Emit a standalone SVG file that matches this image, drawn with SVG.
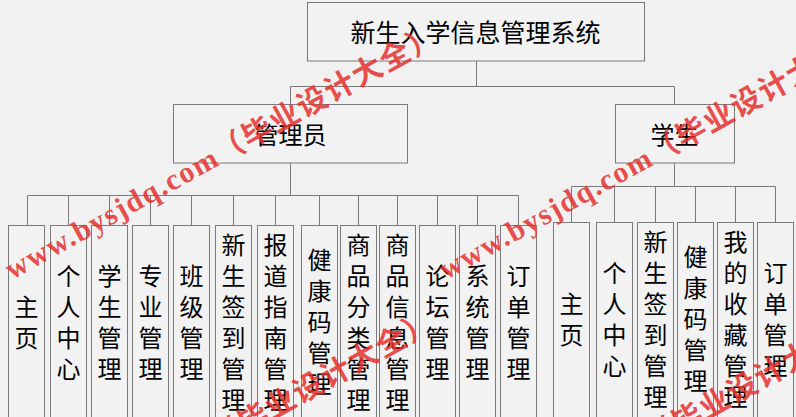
<svg xmlns="http://www.w3.org/2000/svg" width="796" height="417" viewBox="0 0 796 417">
<style>
.bg{fill:#f1f1f1}
.box{fill:#f2f2f2;stroke:#7a7a7a;stroke-width:1}
.ln{fill:none;stroke:#7a7a7a;stroke-width:1}
.t{font-family:"Noto Sans CJK SC","Noto Sans",sans-serif;fill:#000;text-anchor:middle;dominant-baseline:central}
.t25{font-size:25px}
.t24{font-size:24px}
.wm{font-family:"Liberation Serif","Noto Sans CJK SC",serif;font-size:30px;font-weight:bold;letter-spacing:1.5px;fill:#e5302e;fill-opacity:0.85}
</style>
<rect class="bg" x="0" y="0" width="796" height="417"/>

<g id="connectors">
<path class="ln" d="M476.5,61V86.5M290.5,86.5H674.5M290.5,86.5V104M674.5,86.5V104"/>
<path class="ln" d="M290.5,163V195.5M27.5,195.5H518.5M27.5,195.5V225M68.5,195.5V225M109.5,195.5V225M150.5,195.5V225M191.5,195.5V225M233.5,195.5V225M275.5,195.5V225M319.5,195.5V225M358.5,195.5V225M397.5,195.5V225M437.5,195.5V225M477.5,195.5V225M518.5,195.5V225"/>
<path class="ln" d="M674.5,163V186.5M571.5,186.5H775.5M571.5,186.5V222M614.5,186.5V222M655.5,186.5V222M695.5,186.5V222M735.5,186.5V222M775.5,186.5V222"/>
</g>

<g id="root">
<rect class="box" x="307.5" y="2.5" width="337" height="58.5"/>
<text class="t t25" x="475.5" y="31">新生入学信息管理系统</text>
</g>
<g id="admin">
<rect class="box" x="173.5" y="104.5" width="234" height="58.5"/>
<text class="t t24" x="290.5" y="133">管理员</text>
</g>
<g id="student">
<rect class="box" x="615.5" y="104.5" width="119" height="58.5"/>
<text class="t t24" x="674.5" y="133">学生</text>
</g>

<g id="a1"><rect class="box" x="8.5" y="225.5" width="36" height="200"/><text class="t t24" x="26.5"><tspan x="26.5" y="304.5">主</tspan><tspan x="26.5" y="335.5">页</tspan></text></g>
<g id="a2"><rect class="box" x="50.5" y="225.5" width="36" height="200"/><text class="t t24"><tspan x="68.5" y="273.5">个</tspan><tspan x="68.5" y="304.5">人</tspan><tspan x="68.5" y="335.5">中</tspan><tspan x="68.5" y="366.5">心</tspan></text></g>
<g id="a3"><rect class="box" x="91.5" y="225.5" width="36" height="200"/><text class="t t24"><tspan x="109.5" y="273.5">学</tspan><tspan x="109.5" y="304.5">生</tspan><tspan x="109.5" y="335.5">管</tspan><tspan x="109.5" y="366.5">理</tspan></text></g>
<g id="a4"><rect class="box" x="132.5" y="225.5" width="36" height="200"/><text class="t t24"><tspan x="150.5" y="273.5">专</tspan><tspan x="150.5" y="304.5">业</tspan><tspan x="150.5" y="335.5">管</tspan><tspan x="150.5" y="366.5">理</tspan></text></g>
<g id="a5"><rect class="box" x="173.5" y="225.5" width="36" height="200"/><text class="t t24"><tspan x="191.5" y="273.5">班</tspan><tspan x="191.5" y="304.5">级</tspan><tspan x="191.5" y="335.5">管</tspan><tspan x="191.5" y="366.5">理</tspan></text></g>
<g id="a6"><rect class="box" x="215.5" y="225.5" width="36" height="200"/><text class="t t24"><tspan x="233.5" y="242.5">新</tspan><tspan x="233.5" y="273.5">生</tspan><tspan x="233.5" y="304.5">签</tspan><tspan x="233.5" y="335.5">到</tspan><tspan x="233.5" y="366.5">管</tspan><tspan x="233.5" y="397.5">理</tspan></text></g>
<g id="a7"><rect class="box" x="257.5" y="225.5" width="36" height="200"/><text class="t t24"><tspan x="275.5" y="242.5">报</tspan><tspan x="275.5" y="273.5">道</tspan><tspan x="275.5" y="304.5">指</tspan><tspan x="275.5" y="335.5">南</tspan><tspan x="275.5" y="366.5">管</tspan><tspan x="275.5" y="397.5">理</tspan></text></g>
<g id="a8"><rect class="box" x="301.5" y="225.5" width="36" height="200"/><text class="t t24"><tspan x="319.5" y="258">健</tspan><tspan x="319.5" y="289">康</tspan><tspan x="319.5" y="320">码</tspan><tspan x="319.5" y="351">管</tspan><tspan x="319.5" y="382">理</tspan></text></g>
<g id="a9"><rect class="box" x="340.5" y="225.5" width="36" height="200"/><text class="t t24"><tspan x="358.5" y="242.5">商</tspan><tspan x="358.5" y="273.5">品</tspan><tspan x="358.5" y="304.5">分</tspan><tspan x="358.5" y="335.5">类</tspan><tspan x="358.5" y="366.5">管</tspan><tspan x="358.5" y="397.5">理</tspan></text></g>
<g id="a10"><rect class="box" x="379.5" y="225.5" width="36" height="200"/><text class="t t24"><tspan x="397.5" y="242.5">商</tspan><tspan x="397.5" y="273.5">品</tspan><tspan x="397.5" y="304.5">信</tspan><tspan x="397.5" y="335.5">息</tspan><tspan x="397.5" y="366.5">管</tspan><tspan x="397.5" y="397.5">理</tspan></text></g>
<g id="a11"><rect class="box" x="419.5" y="225.5" width="36" height="200"/><text class="t t24"><tspan x="437.5" y="273.5">论</tspan><tspan x="437.5" y="304.5">坛</tspan><tspan x="437.5" y="335.5">管</tspan><tspan x="437.5" y="366.5">理</tspan></text></g>
<g id="a12"><rect class="box" x="459.5" y="225.5" width="36" height="200"/><text class="t t24"><tspan x="477.5" y="273.5">系</tspan><tspan x="477.5" y="304.5">统</tspan><tspan x="477.5" y="335.5">管</tspan><tspan x="477.5" y="366.5">理</tspan></text></g>
<g id="a13"><rect class="box" x="500.5" y="225.5" width="36" height="200"/><text class="t t24"><tspan x="518.5" y="273.5">订</tspan><tspan x="518.5" y="304.5">单</tspan><tspan x="518.5" y="335.5">管</tspan><tspan x="518.5" y="366.5">理</tspan></text></g>

<g id="s1"><rect class="box" x="553.5" y="222.5" width="36" height="200"/><text class="t t24"><tspan x="571.5" y="301.5">主</tspan><tspan x="571.5" y="332.5">页</tspan></text></g>
<g id="s2"><rect class="box" x="596.5" y="222.5" width="36" height="200"/><text class="t t24"><tspan x="614.5" y="270.5">个</tspan><tspan x="614.5" y="301.5">人</tspan><tspan x="614.5" y="332.5">中</tspan><tspan x="614.5" y="363.5">心</tspan></text></g>
<g id="s3"><rect class="box" x="637.5" y="222.5" width="36" height="200"/><text class="t t24"><tspan x="655.5" y="239.5">新</tspan><tspan x="655.5" y="270.5">生</tspan><tspan x="655.5" y="301.5">签</tspan><tspan x="655.5" y="332.5">到</tspan><tspan x="655.5" y="363.5">管</tspan><tspan x="655.5" y="394.5">理</tspan></text></g>
<g id="s4"><rect class="box" x="677.5" y="222.5" width="36" height="200"/><text class="t t24"><tspan x="695.5" y="255">健</tspan><tspan x="695.5" y="286">康</tspan><tspan x="695.5" y="317">码</tspan><tspan x="695.5" y="348">管</tspan><tspan x="695.5" y="379">理</tspan></text></g>
<g id="s5"><rect class="box" x="717.5" y="222.5" width="36" height="200"/><text class="t t24"><tspan x="735.5" y="239.5">我</tspan><tspan x="735.5" y="270.5">的</tspan><tspan x="735.5" y="301.5">收</tspan><tspan x="735.5" y="332.5">藏</tspan><tspan x="735.5" y="363.5">管</tspan><tspan x="735.5" y="394.5">理</tspan></text></g>
<g id="s6"><rect class="box" x="757.5" y="222.5" width="36" height="200"/><text class="t t24"><tspan x="775.5" y="270.5">订</tspan><tspan x="775.5" y="301.5">单</tspan><tspan x="775.5" y="332.5">管</tspan><tspan x="775.5" y="363.5">理</tspan></text></g>

<g id="watermark">
<text class="wm" transform="translate(12,280) rotate(-29)">www.bysjdq.com（毕业设计大全）</text>
<text class="wm" transform="translate(446,280) rotate(-29)">www.bysjdq.com（毕业设计大全）</text>
<text class="wm" transform="translate(8,566) rotate(-29)">www.bysjdq.com（毕业设计大全）</text>
<text class="wm" transform="translate(442,566) rotate(-29)">www.bysjdq.com（毕业设计大全）</text>
</g>
</svg>
